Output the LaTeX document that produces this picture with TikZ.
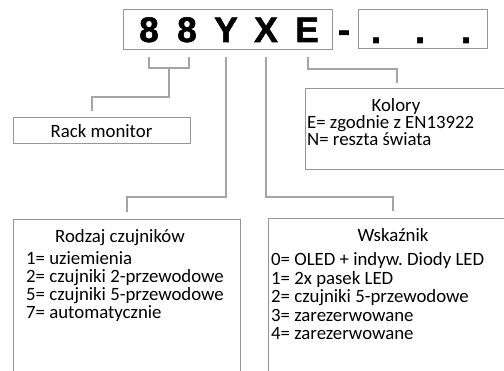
\documentclass[tikz,border=0pt]{standalone}
\usepackage{fontspec}
\setmainfont{Carlito}
\newfontfamily\codefont{Liberation Sans Bold}[FakeBold=1.5]
\definecolor{boxgray}{RGB}{150,150,150}
\definecolor{linegray}{RGB}{165,165,165}
\frenchspacing
\begin{document}
\begin{tikzpicture}[x=1pt,y=-1pt,
  box/.style={draw=boxgray, line width=1.3pt, inner sep=0pt, anchor=north west},
  conn/.style={draw=linegray, line width=1.3pt},
  txt/.style={inner sep=0pt, anchor=base west, font=\fontsize{18.8}{18}\selectfont},
  ttl/.style={inner sep=0pt, anchor=base, font=\fontsize{18.8}{18}\selectfont},
  codech/.style={inner sep=0pt, anchor=base, font=\codefont\fontsize{35.5}{36}\selectfont}]
\useasboundingbox (0,0) rectangle (504,371);
\clip (0,0) rectangle (504,371);
\fill[white] (0,0) rectangle (504,371);
% top boxes
\node[box, minimum width=209pt, minimum height=40pt] (code) at (123,9) {};
\node[box, minimum width=129pt, minimum height=39pt] (ext) at (358,9) {};
\node[codech] (c1) at (149,42) {8};
\node[codech] (c2) at (187,42) {8};
\node[codech] (c3) at (226,42) {Y};
\node[codech] (c4) at (266,42) {X};
\node[codech] (c5) at (307,42) {E};
\node[codech] (dash) at (344,42) {-};
\node[codech] (d1) at (376,43) {.};
\node[codech] (d2) at (420,43) {.};
\node[codech] (d3) at (466,43) {.};
% lower boxes
\node[box, minimum width=177pt, minimum height=26pt] (rack) at (13,117) {};
\node[ttl] (racktxt) at (101.5,138) {Rack monitor};
\node[box, minimum width=215pt, minimum height=81pt] (kol) at (305,88) {};
\node[ttl] (koltitle) at (396,112) {Kolory};
\node[txt] (kol1) at (307,129) {E= zgodnie z EN13922};
\node[txt] (kol2) at (307,146) {N= reszta świata};
\node[box, minimum width=227pt, minimum height=181pt] (rodz) at (13,219) {};
\node[ttl] (rodztitle) at (120,243) {Rodzaj czujników};
\node[txt] (r1) at (26,265) {1= uziemienia};
\node[txt] (r2) at (26,283) {2= czujniki 2-przewodowe};
\node[txt] (r3) at (26,301) {5= czujniki 5-przewodowe};
\node[txt] (r4) at (26,319) {7= automatycznie};
\node[box, minimum width=252pt, minimum height=181pt] (wsk) at (268,218) {};
\node[ttl] (wsktitle) at (393,242) {Wskaźnik};
\node[txt] (w0) at (271,266) {0= OLED + indyw. Diody LED};
\node[txt] (w1) at (271,284.5) {1= 2x pasek LED};
\node[txt] (w2) at (271,303) {2= czujniki 5-przewodowe};
\node[txt] (w3) at (271,321.5) {3= zarezerwowane};
\node[txt] (w4) at (271,340) {4= zarezerwowane};
% connector coordinates
\coordinate (a1) at (149,57);
\coordinate (a2) at (189,57);
\coordinate (am) at (169,68);
\coordinate (ay) at (226,57);
\coordinate (ax) at (266,57);
\coordinate (ae) at (308,57);
% connectors
\draw[conn] (a1) |- (am) -| (a2);
\draw[conn, shorten >=6pt] (am) -- (169,97) -| (rack.north -| 92,0);
\draw[conn, shorten >=7pt] (ay) -- (226,197) -| (rodz.north -| 127,0);
\draw[conn, shorten >=7pt] (ax) -- (266,197) -| (wsk.north -| 393,0);
\draw[conn, shorten >=5pt] (ae) -- (308,69) -| (kol.north -| 397,0);
\end{tikzpicture}
\end{document}
